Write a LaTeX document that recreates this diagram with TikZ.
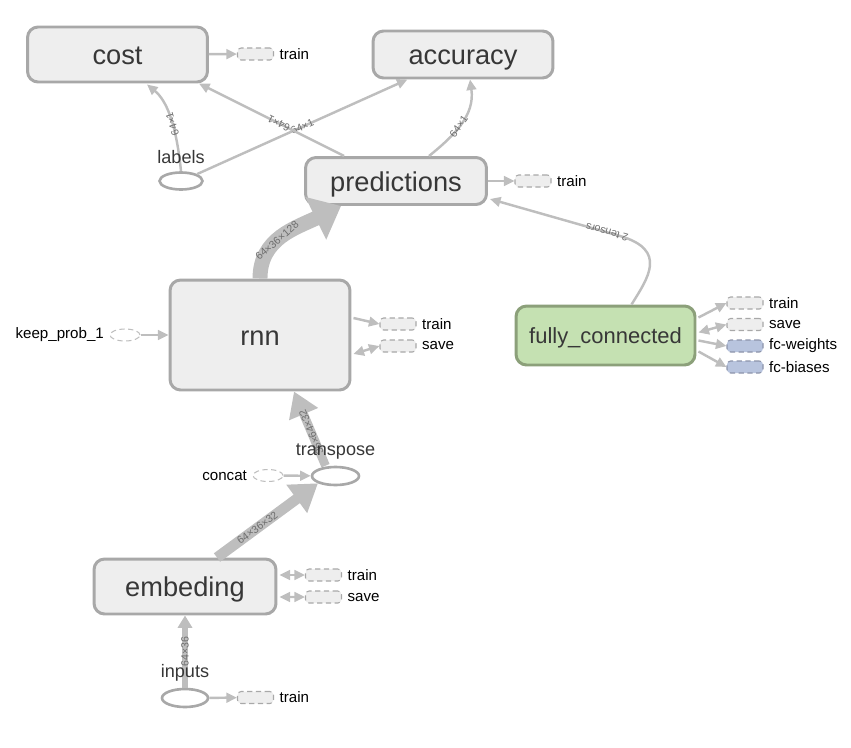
\documentclass[tikz,border=0pt]{standalone}
\usepackage{fontspec}
\setmainfont{Liberation Sans}
\usetikzlibrary{positioning,shapes.geometric,arrows.meta,calc}

\definecolor{nodefill}{RGB}{238,238,238}
\definecolor{nodeborder}{RGB}{168,168,168}
\definecolor{nodetext}{RGB}{55,55,55}
\definecolor{edgecol}{RGB}{190,190,190}
\definecolor{labeltext}{RGB}{110,110,110}
\definecolor{fcfill}{RGB}{197,225,178}
\definecolor{fcborder}{RGB}{140,160,122}
\definecolor{varfill}{RGB}{184,196,222}
\definecolor{varborder}{RGB}{140,148,170}

\begin{document}
\begin{tikzpicture}[x=0.02cm, y=-0.02cm,
    op/.style={rectangle, draw=nodeborder, fill=nodefill, line width=1.7pt, rounded corners=6pt, minimum width=3.6cm, inner sep=0pt, text height=13.5pt, text depth=1.9pt, text=nodetext, font=\fontsize{15.5}{18}\selectfont},
    fcop/.style={op, draw=fcborder, fill=fcfill, text height=10.6pt, text depth=1.9pt, font=\fontsize{12.5}{15}\selectfont},
    ph/.style={ellipse, draw=nodeborder, fill=white, line width=1.5pt, minimum width=0.92cm, minimum height=0.36cm, inner sep=0pt},
    const/.style={ellipse, draw=edgecol, fill=white, densely dashed, line width=0.6pt, minimum width=0.6cm, minimum height=0.24cm, inner sep=0pt},
    ref/.style={rectangle, draw=nodeborder, fill=nodefill, densely dashed, line width=0.6pt, rounded corners=2pt, minimum width=0.72cm, minimum height=0.24cm, inner sep=0pt},
    vref/.style={ref, draw=varborder, fill=varfill},
    small/.style={inner sep=1pt, text=black, font=\fontsize{8.6}{10}\selectfont},
    caption/.style={inner sep=0pt, text=nodetext, font=\fontsize{10.3}{12}\selectfont},
    flow/.style={draw=edgecol, line width=1.4pt, -{Triangle[length=6pt, width=5.5pt]}},
    both/.style={flow, {Triangle[length=6pt, width=5.5pt]}-{Triangle[length=6pt, width=5.5pt]}},
    elabel/.style={sloped, allow upside down, inner sep=0.5pt, text=labeltext, font=\fontsize{6}{7}\selectfont}
]
\useasboundingbox (0,0) rectangle (851,747);

% Ops
\node[op, minimum height=1.1cm] (cost) at (117.5,54.5) {cost};
\node[op, minimum height=0.94cm] (accuracy) at (463,54.5) {accuracy};
\node[op, minimum height=0.94cm, minimum width=3.62cm] (pred) at (396,181) {predictions};
\node[op, minimum height=2.2cm] (rnn) at (260,335) {rnn};
\node[fcop, minimum height=1.18cm, minimum width=3.58cm] (fc) at (605.5,335.5) {fully\_connected};
\node[op, minimum height=1.1cm, minimum width=3.64cm] (emb) at (185,586.5) {embeding};

% Placeholders and constants
\node[ph, minimum width=0.86cm, minimum height=0.34cm] (labels) at (181,181) {};
\node[ph, minimum width=0.94cm] (transpose) at (335.5,476) {};
\node[ph] (inputs) at (185,698) {};
\node[const] (keepprob) at (125,335) {};
\node[small, left=2pt of keepprob] (keepprobtext) {keep\_prob\_1};
\node[const] (concat) at (268,475.5) {};
\node[small, left=2pt of concat] (concattext) {concat};

% References
\node[ref] (costtrain) at (255.5,54) {};
\node[small, right=2pt of costtrain] (costtraintext) {train};
\node[ref] (predtrain) at (533,181) {};
\node[small, right=2pt of predtrain] (predtraintext) {train};
\node[ref] (rnntrain) at (398,324) {};
\node[small, right=2pt of rnntrain] (rnntraintext) {train};
\node[ref] (rnnsave) at (398,346) {};
\node[small, right=2pt of rnnsave] (rnnsavetext) {save};
\node[ref] (fctrain) at (745,303) {};
\node[small, right=2pt of fctrain] (fctraintext) {train};
\node[ref] (fcsave) at (745,324.5) {};
\node[small, right=2pt of fcsave] (fcsavetext) {save};
\node[vref] (fcweights) at (745,346) {};
\node[small, right=2pt of fcweights] (fcweightstext) {fc-weights};
\node[vref] (fcbiases) at (745,367) {};
\node[small, right=2pt of fcbiases] (fcbiasestext) {fc-biases};
\node[ref] (embtrain) at (323.5,575) {};
\node[small, right=2pt of embtrain] (embtraintext) {train};
\node[ref] (embsave) at (323.5,597) {};
\node[small, right=2pt of embsave] (embsavetext) {save};
\node[ref] (inputstrain) at (255.5,697.5) {};
\node[small, right=2pt of inputstrain] (inputstraintext) {train};

% Edges to references
\draw[flow] (cost) -- (costtrain);
\draw[flow] (pred) -- (predtrain);
\draw[flow] (inputs) -- (inputstrain);
\draw[flow] (keepprob) -- (rnn);
\draw[flow] (concat) -- (transpose);
\draw[flow] ($(rnn.east)+(2,-17)$) -- (rnntrain.west);
\draw[both] ($(rnn.east)+(2,19)$) -- (rnnsave.west);
\draw[both] ($(emb.east)+(2,-11.5)$) -- (embtrain.west);
\draw[both] ($(emb.east)+(2,10.5)$) -- (embsave.west);
\draw[flow] ($(fc.east)+(2,-18)$) -- (fctrain.west);
\draw[both] ($(fc.east)+(2,-3)$) -- (fcsave.west);
\draw[flow] ($(fc.east)+(2,5)$) -- (fcweights.west);
\draw[flow] ($(fc.east)+(2,16)$) -- (fcbiases.west);

% Data edges
\draw[flow] (labels.north) .. controls (176,122) and (166,100) .. node[elabel, pos=0.4] {64×1} ($(cost.south)+(29.5,1)$);
\draw[flow] (labels.north east) -- node[elabel, pos=0.5] {64×1} (accuracy);
\draw[flow] ($(pred.north west)+(40,0)$) -- node[elabel, pos=0.45] {64×1} ($(cost.south east)+(-10,0)$);
\draw[flow] ($(pred.north)+(33,0)$) .. controls (455,135) and (475,115) .. node[elabel, pos=0.45] {64×1} ($(accuracy.south)+(7,0)$);
\draw[flow] ($(fc.north)+(26,0)$) .. controls (648,278) and (668,250) .. (620,236) -- node[elabel, pos=0.1] {2 tensors} ($(pred.east)+(2,18)$);
\draw[flow, line width=8.5pt, -{Triangle[length=16pt, width=26pt]}] (rnn.north) .. controls (260,238) and (296,228) .. node[elabel, pos=0.42] {64×36×128} ($(pred.south west)+(37,0)$);
\draw[flow, line width=5pt, -{Triangle[length=14pt, width=17pt]}] ($(transpose.north)+(-10,0)$) -- node[elabel, pos=0.45] {36×64×32} ($(rnn.south)+(34,0)$);
\draw[flow, line width=6pt, -{Triangle[length=15pt, width=19pt]}] ($(emb.north)+(32,0)$) -- node[elabel, pos=0.4] {64×36×32} (transpose.south west);
\draw[flow, line width=3.2pt, -{Triangle[length=7pt, width=8pt]}] (inputs.north) -- node[elabel, pos=0.5] {64×36} (emb.south);

% Captions of placeholders
\node[caption] (labelstext) at (181,157) {labels};
\node[caption] (transposetext) at (335.5,452) {transpose};
\node[caption] (inputstext) at (185,673) {inputs};

\end{tikzpicture}
\end{document}
